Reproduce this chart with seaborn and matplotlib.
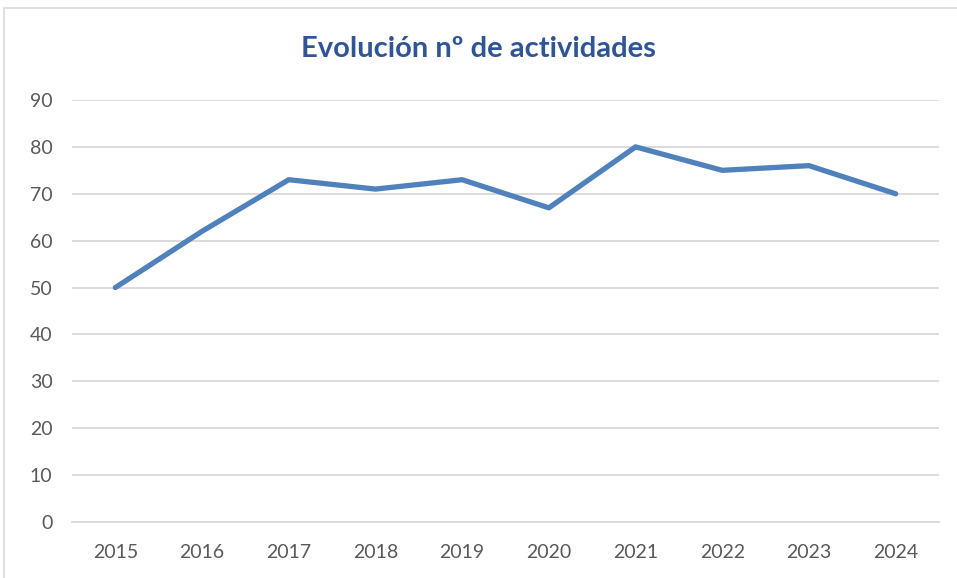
import pandas as pd
import matplotlib.pyplot as plt
import seaborn as sns
from matplotlib.patches import Rectangle

# Data
years = ["2015", "2016", "2017", "2018", "2019", "2020", "2021", "2022", "2023", "2024"]
activities = [50, 62, 73, 71, 73, 67, 80, 75, 76, 70]
y_ticks = [0, 10, 20, 30, 40, 50, 60, 70, 80, 90]

df = pd.DataFrame({"Año": years, "Actividades": activities})

sns.set_style("white")
plt.rcParams["font.family"] = ["Lato", "DejaVu Sans"]

fig = plt.figure(figsize=(9.57, 5.78), dpi=100)
ax = fig.add_axes([72 / 957, 1 - 522 / 578, (939 - 72) / 957, (522 - 100) / 578])

# chart area border
fig.patches.append(Rectangle((4 / 957, -0.1), 1.2, 1 - 8 / 578 + 0.1,
                             transform=fig.transFigure, fill=False,
                             edgecolor="#D9D9D9", linewidth=1.2))

sns.lineplot(data=df, x="Año", y="Actividades", ax=ax, color="#4F81BD",
             linewidth=3.8, sort=False)
ax.lines[0].set_solid_capstyle("round")
ax.lines[0].set_solid_joinstyle("round")

ax.set_xlim(-0.5, len(years) - 0.5)
ax.set_ylim(0, 90)
ax.set_yticks(y_ticks)
ax.yaxis.grid(True, color="#D9D9D9", linewidth=1.3)
ax.set_axisbelow(True)
for s in ["top", "right", "left"]:
    ax.spines[s].set_visible(False)
ax.spines["bottom"].set_color("#D9D9D9")
ax.spines["bottom"].set_linewidth(1.3)
ax.tick_params(axis="both", length=0, labelsize=14, labelcolor="#595959")
ax.tick_params(axis="x", pad=16)
ax.tick_params(axis="y", pad=14)
ax.set_xlabel("")
ax.set_ylabel("")

fig.text(0.5, 1 - 49 / 578, "Evolución nº de actividades", ha="center", va="center",
         fontsize=21, fontweight="bold", color="#2F5597")

fig.savefig("out.png", dpi=100)
